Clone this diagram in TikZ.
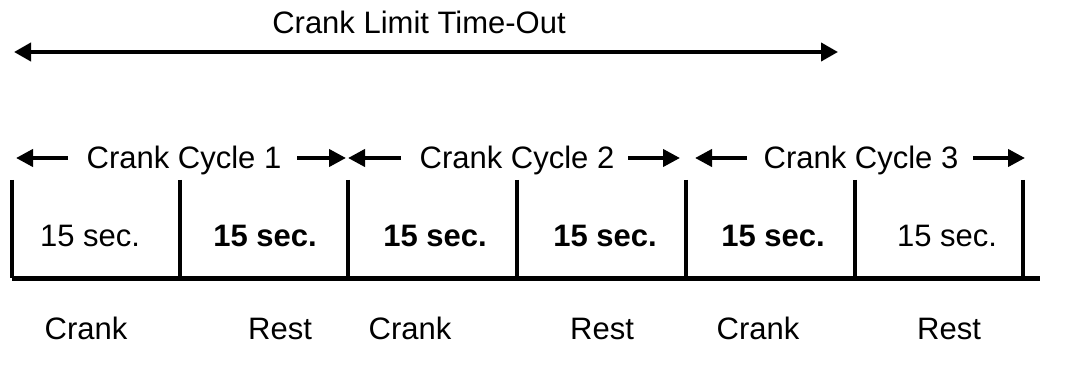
\documentclass[tikz,border=0pt]{standalone}
\usepackage{fontspec}
\setmainfont{Liberation Sans}
\usetikzlibrary{arrows.meta}
\begin{document}
\begin{tikzpicture}[x=1pt,y=-1pt,
  lbl/.style={anchor=base,inner sep=0pt,font=\fontsize{31}{37}\selectfont},
  blbl/.style={lbl,font=\fontsize{31}{37}\selectfont\bfseries},
  bigarrow/.style={line width=4pt,{Triangle[length=17pt,width=18pt]}-{Triangle[length=17pt,width=18pt]}},
  cycarrow/.style={line width=4pt,-{Triangle[length=17pt,width=17pt]}},
  tick/.style={line width=4pt},
  base/.style={line width=5pt}]
\useasboundingbox (0,0) rectangle (1065,366);
% title and long arrow
\node[lbl] (title) at (419,34) {Crank Limit Time-Out};
\coordinate (L1) at (14,52);
\coordinate (L2) at (838,52);
\draw[bigarrow] (L1) -- (L2);
% cycle labels
\node[lbl] (c1) at (184,169) {Crank Cycle 1};
\node[lbl] (c2) at (517,169) {Crank Cycle 2};
\node[lbl] (c3) at (861,169) {Crank Cycle 3};
\coordinate (a1t) at (68,158);  \coordinate (a1h) at (16,158);
\coordinate (a2t) at (297,158); \coordinate (a2h) at (346,158);
\coordinate (a3t) at (401,158); \coordinate (a3h) at (348,158);
\coordinate (a4t) at (628,158); \coordinate (a4h) at (680,158);
\coordinate (a5t) at (747,158); \coordinate (a5h) at (695,158);
\coordinate (a6t) at (973,158); \coordinate (a6h) at (1025,158);
\draw[cycarrow] (a1t) -- (a1h);
\draw[cycarrow] (a2t) -- (a2h);
\draw[cycarrow] (a3t) -- (a3h);
\draw[cycarrow] (a4t) -- (a4h);
\draw[cycarrow] (a5t) -- (a5h);
\draw[cycarrow] (a6t) -- (a6h);
% timeline
\foreach \i/\x in {0/12,1/180,2/348,3/517,4/686,5/855,6/1023}{
  \coordinate (t\i) at (\x,180);
  \coordinate (b\i) at (\x,278);
  \draw[tick] (t\i) -- (b\i);
}
\coordinate (bend) at (1040,278);
\draw[base] (b0) -- (bend);
% durations
\node[lbl]  (d1) at (90,246)  {15 sec.};
\node[blbl] (d2) at (265,246) {15 sec.};
\node[blbl] (d3) at (435,246) {15 sec.};
\node[blbl] (d4) at (605,246) {15 sec.};
\node[blbl] (d5) at (773,246) {15 sec.};
\node[lbl]  (d6) at (947,246) {15 sec.};
% phase labels
\node[lbl] (p1) at (86,339)  {Crank};
\node[lbl] (p2) at (280,339) {Rest};
\node[lbl] (p3) at (410,339) {Crank};
\node[lbl] (p4) at (602,339) {Rest};
\node[lbl] (p5) at (758,339) {Crank};
\node[lbl] (p6) at (949,339) {Rest};
\end{tikzpicture}
\end{document}
